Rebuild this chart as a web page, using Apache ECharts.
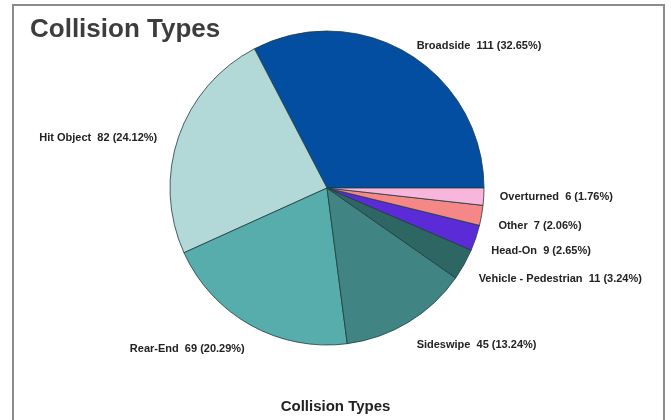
<!DOCTYPE html>
<html>
<head>
<meta charset="utf-8">
<script src="https://cdn.jsdelivr.net/npm/echarts@6/dist/echarts.min.js"></script>
<style>
html,body{margin:0;padding:0;background:#fff;}
#wrap{position:relative;width:671px;height:420px;overflow:hidden;}
#chart{position:absolute;left:0;top:0;width:671px;height:420px;}
#frame{position:absolute;left:12px;top:4px;width:649px;height:430px;border:2px solid #8c8c8c;pointer-events:none;}
</style>
</head>
<body>
<div id="wrap"><div id="chart"></div><div id="frame"></div></div>
<script>
const categories = ["Broadside","Hit Object","Rear-End","Sideswipe","Vehicle - Pedestrian","Head-On","Other","Overturned"];
const counts = [111, 82, 69, 45, 11, 9, 7, 6];
const sliceColors = ["#034EA0","#B2D8D8","#57ACAC","#408583","#2E6664","#5B2BD8","#F58787","#F9B6DC"];
const chartTitle = "Collision Types";
const axisTitle = "Collision Types";

const total = counts.reduce((a,b)=>a+b,0);
// small label nudges (px) to mimic the reference's label placement
const labelNudge = [[-7,2],[-1,5],[9,13],[-7,12],[-5,9],[-5,9],[-4,8],[-5,0]];

const chart = echarts.init(document.getElementById('chart'), null, {renderer:'canvas'});
chart.setOption({
  animation:false,
  backgroundColor:'#ffffff',
  title:[
    {text:chartTitle, left:25, top:12, textStyle:{fontFamily:'Liberation Sans, Arial, sans-serif', fontSize:26, fontWeight:'bold', color:'#3d3d3d'}},
    {text:axisTitle, left:'center', top:394, textStyle:{fontFamily:'Liberation Sans, Arial, sans-serif', fontSize:15, fontWeight:'bold', color:'#222'}}
  ],
  series:[{
    type:'pie',
    center:[327,188],
    radius:157,
    startAngle:0,
    clockwise:false,
    avoidLabelOverlap:false,
    data: categories.map((c,i)=>({name:c, value:counts[i], itemStyle:{color:sliceColors[i]}})),
    itemStyle:{borderColor:'#1e3c3c', borderWidth:0.8},
    label:{
      show:true, position:'outside',
      formatter:(p)=> p.name + '  ' + p.value + ' (' + (p.value/total*100).toFixed(2) + '%)',
      fontFamily:'Liberation Sans, Arial, sans-serif', fontSize:11, fontWeight:'bold', color:'#222'
    },
    labelLine:{show:false, length:12, length2:4},
    labelLayout:(params)=>({dx:labelNudge[params.dataIndex][0], dy:labelNudge[params.dataIndex][1]}),
    emphasis:{disabled:true}
  }]
});
</script>
</body>
</html>
